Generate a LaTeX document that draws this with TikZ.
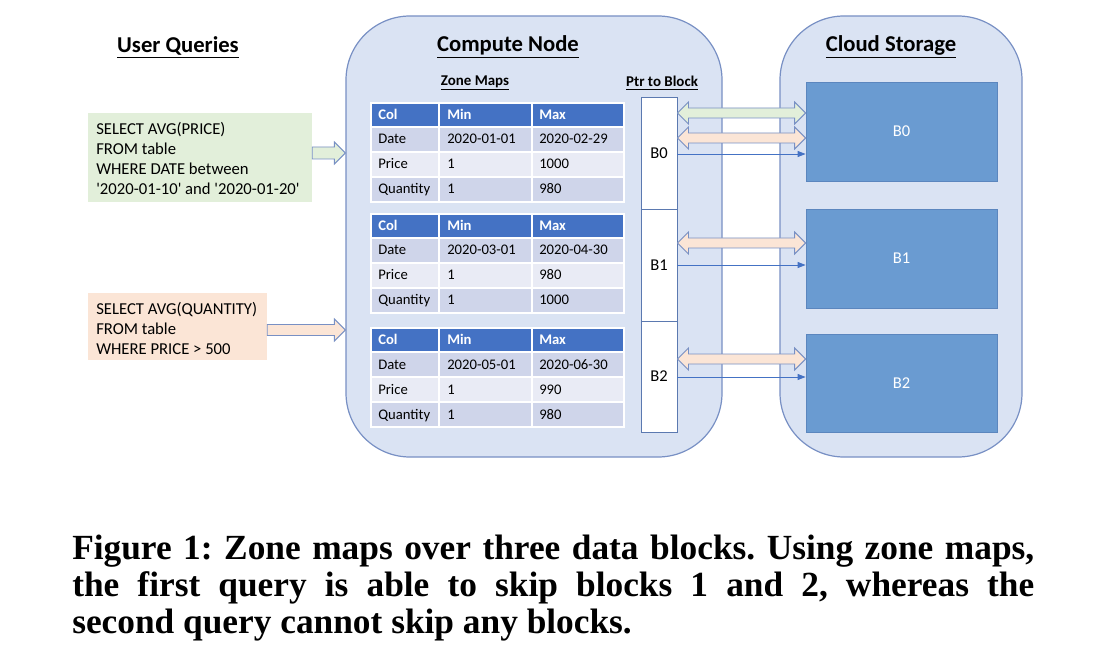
\documentclass[tikz,border=0pt]{standalone}
\usepackage{fontspec}
\setmainfont{Carlito}
\newfontfamily\capfont{Liberation Serif}
\usetikzlibrary{fit,calc,arrows.meta}
\definecolor{cfill}{HTML}{DAE3F3}
\definecolor{cline}{HTML}{7890C4}
\definecolor{hdrc}{HTML}{4472C4}
\definecolor{rowd}{HTML}{CFD5EA}
\definecolor{rowl}{HTML}{E9EBF5}
\definecolor{gfill}{HTML}{E2EFDA}
\definecolor{pfill}{HTML}{FBE5D6}
\definecolor{bfill}{HTML}{6A9BD1}
\definecolor{bline}{HTML}{5B86BE}
\definecolor{pline}{HTML}{5B79B0}
\definecolor{thinc}{HTML}{4472C4}
\newcommand\zmtable[6]{%
\begin{scope}[shift={(0,#1)}]
\fill[hdrc] (371,0) rectangle (624,24);
\fill[rowd] (371,24) rectangle (624,49);
\fill[rowl] (371,49) rectangle (624,74);
\fill[rowd] (371,74) rectangle (624,99);
\draw[white,line width=1.2pt] (371,0) rectangle (624,99) (371,24) -- (624,24) (371,49) -- (624,49) (371,74) -- (624,74) (439,0) -- (439,99) (532,0) -- (532,99);
\node[hcell] (#2c1) at (378,16.5) {Col};
\node[hcell] (#2c2) at (447,16.5) {Min};
\node[hcell] (#2c3) at (539,16.5) {Max};
\node[cell] (#2d1) at (378,41) {Date};
\node[cell] (#2d2) at (447,41) {#3};
\node[cell] (#2d3) at (539,41) {#4};
\node[cell] (#2p1) at (378,66) {Price};
\node[cell] (#2p2) at (447,66) {1};
\node[cell] (#2p3) at (539,66) {#5};
\node[cell] (#2q1) at (378,91) {Quantity};
\node[cell] (#2q2) at (447,91) {1};
\node[cell] (#2q3) at (539,91) {#6};
\end{scope}}
\newcommand\dblarrow[4]{\filldraw[#1] (#2.east |- #4) -- ++(11,-11) -- ++(0,6) -- ($(#3.west |- #4)+(-11,-5)$) -- ++(0,-6) -- (#3.west |- #4) -- ++(-11,11) -- ++(0,-6) -- ($(#2.east |- #4)+(11,5)$) -- ++(0,6) -- cycle;}
\newcommand\sglarrow[5]{\filldraw[#1] ($(#2.east |- #4)+(0,-#5)$) -- ($(#3.west |- #4)+(-11,-#5)$) -- ($(#3.west |- #4)+(-11,-11)$) -- (#3.west |- #4) -- ($(#3.west |- #4)+(-11,11)$) -- ($(#3.west |- #4)+(-11,#5)$) -- ($(#2.east |- #4)+(0,#5)$) -- cycle;}
\newcommand\q{\textquotesingle}
\begin{document}
\begin{tikzpicture}[x=0.75pt,y=-0.75pt,
  container/.style={draw=cline,fill=cfill,line width=0.9pt,rounded corners=48pt,inner sep=0pt},
  title/.style={font=\bfseries\fontsize{17}{20}\selectfont},
  subtitle/.style={font=\bfseries\fontsize{11.2}{13}\selectfont},
  cell/.style={anchor=base west,inner sep=0pt,font=\fontsize{11}{13}\selectfont},
  hcell/.style={cell,text=white,font=\bfseries\fontsize{11}{13}\selectfont},
  ptrbox/.style={draw=pline,fill=white,line width=0.7pt,minimum width=27pt,inner sep=0pt,font=\fontsize{12.4}{14}\selectfont},
  cblock/.style={draw=bline,fill=bfill,line width=0.6pt,minimum width=143.25pt,inner sep=0pt,text=white,font=\fontsize{12.4}{14}\selectfont},
  qbox/.style={inner sep=0pt},
  query/.style={anchor=west,inner sep=0pt,align=left,font=\fontsize{12.5}{15}\selectfont},
  barrow/.style={draw=cline,line width=0.7pt},
  thinarrow/.style={draw=thinc,line width=0.6pt,-{Triangle[length=6pt,width=4.5pt]}}
]
\useasboundingbox (0,0) rectangle (1106,645);
\fill[white] (0,0) rectangle (1106,645);
% containers
\node[container,fit={(346,16) (722,457)}] (cn) {};
\node[container,fit={(780,16) (1022,457)}] (cs) {};
% titles
\node[title] (tuq) at (178,47) {\underline{User Queries}};
\node[title] (tcn) at (508,47) {\underline{Compute Node}};
\node[title] (tcs) at (891,47) {\underline{Cloud Storage}};
\node[subtitle] (tzm) at (475,83) {\underline{Zone Maps}};
\node[subtitle] (tpb) at (662,83) {\underline{Ptr to Block}};
% tables
\zmtable{103}{ta}{2020-01-01}{2020-02-29}{1000}{980}
\zmtable{214}{tb}{2020-03-01}{2020-04-30}{980}{1000}
\zmtable{328}{tc}{2020-05-01}{2020-06-30}{990}{980}
% pointer column
\node[ptrbox,minimum height=84pt] (p0) at (659,153) {B0};
\node[ptrbox,minimum height=84pt] (p1) at (659,265) {B1};
\node[ptrbox,minimum height=83.25pt] (p2) at (659,376.5) {B2};
% cloud blocks
\node[cblock,minimum height=74.25pt] (b0) at (901.5,131.5) {B0};
\node[cblock,minimum height=74.25pt] (b1) at (901.5,258.5) {B1};
\node[cblock,minimum height=73.5pt] (b2) at (901.5,383) {B2};
% queries
\node[qbox,fill=gfill,fit={(88,113) (312,202)}] (qg) {};
\node[query] (qgt) at (96,158) {SELECT AVG(PRICE)\\FROM table\\WHERE DATE between\\\q2020-01-10\q{} and \q2020-01-20\q};
\node[qbox,fill=pfill,fit={(88,293) (267,360)}] (qp) {};
\node[query] (qpt) at (96,328) {SELECT AVG(QUANTITY)\\FROM table\\WHERE PRICE > 500};
% coordinates for arrow heights
\coordinate (yqg) at (0,153);
\coordinate (yqp) at (0,330);
\coordinate (yg0) at (0,113);
\coordinate (yp0) at (0,138);
\coordinate (yt0) at (0,154);
\coordinate (yp1) at (0,243);
\coordinate (yt1) at (0,265);
\coordinate (yp2) at (0,359);
\coordinate (yt2) at (0,377);
% query arrows
\sglarrow{barrow,fill=gfill}{qg}{cn}{yqg}{6}
\sglarrow{barrow,fill=pfill}{qp}{cn}{yqp}{5.5}
% block arrows
\dblarrow{barrow,fill=gfill}{p0}{b0}{yg0}
\dblarrow{barrow,fill=pfill}{p0}{b0}{yp0}
\dblarrow{barrow,fill=pfill}{p1}{b1}{yp1}
\dblarrow{barrow,fill=pfill}{p2}{b2}{yp2}
\draw[thinarrow] (p0.east |- yt0) -- (b0.west |- yt0);
\draw[thinarrow] (p1.east |- yt1) -- (b1.west |- yt1);
\draw[thinarrow] (p2.east |- yt2) -- (b2.west |- yt2);
% caption
\begin{scope}[every node/.style={anchor=base west,inner sep=0pt,font=\capfont\bfseries\fontsize{26.5}{28}\selectfont\frenchspacing}]
\node (cap1) at (72,559) {\hbox to 721.5pt{Figure 1: Zone maps over three data blocks. Using zone maps,}};
\node (cap2) at (72,596) {\hbox to 721.5pt{the first query is able to skip blocks 1 and 2, whereas the}};
\node (cap3) at (72,633) {second query cannot skip any blocks.};
\end{scope}
\end{tikzpicture}
\end{document}
